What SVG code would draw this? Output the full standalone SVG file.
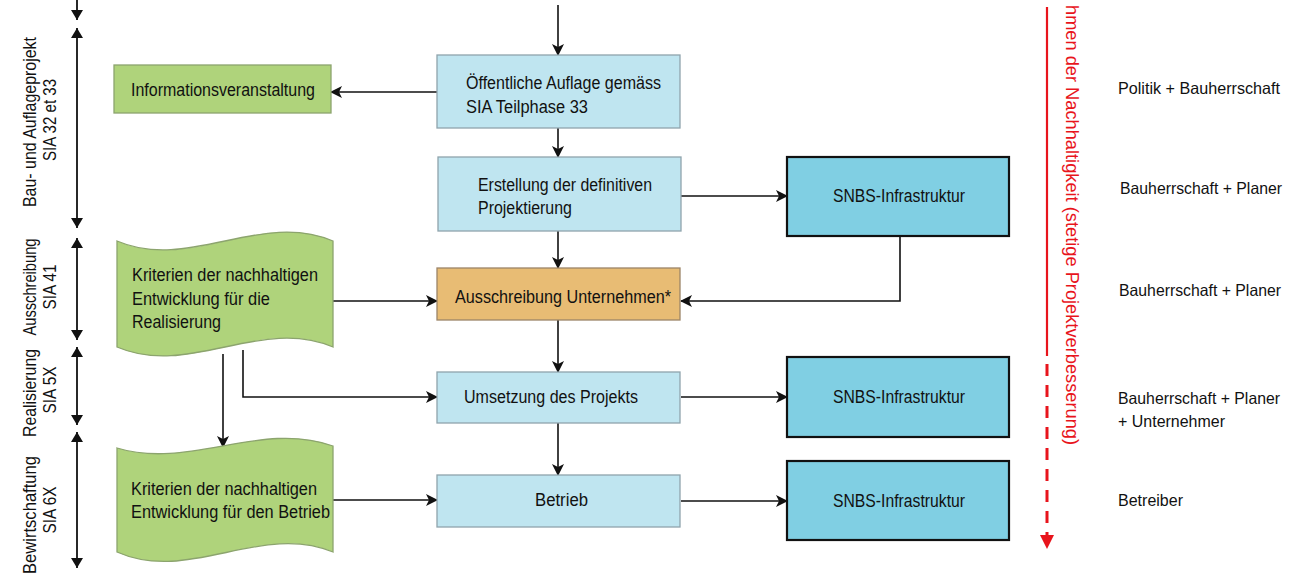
<svg xmlns="http://www.w3.org/2000/svg" width="1295" height="579" viewBox="0 0 1295 579">
<style>
text{font-family:"Liberation Sans",Arial,sans-serif;font-size:17.5px;fill:#111;}
.rl{font-size:16.5px;}
.lb{fill:#BFE5F0;stroke:#8FA4AC;stroke-width:1.3;}
.or{fill:#E8BC74;stroke:#9C8468;stroke-width:1.3;}
.gr{fill:#AFD37B;stroke:#8CA46E;stroke-width:1.3;}
.sn{fill:#80CFE3;stroke:#111;stroke-width:2.2;}
.c{fill:none;stroke:#111;stroke-width:1.6;}
.ax{fill:none;stroke:#111;stroke-width:1.8;}
.red{fill:#E8141C;font-size:18px;}
</style>
<defs>
<marker id="ah" viewBox="0 0 12 12" refX="11" refY="6" markerWidth="12" markerHeight="12" markerUnits="userSpaceOnUse" orient="auto">
<path d="M0,0 L12,6 L0,12 L3,6 Z" fill="#111"/>
</marker>
<marker id="ax" viewBox="0 0 10 12" refX="10" refY="6" markerWidth="10" markerHeight="12" markerUnits="userSpaceOnUse" orient="auto-start-reverse">
<path d="M0,0 L10,6 L0,12 Z" fill="#111"/>
</marker>
<marker id="rh" viewBox="0 0 14 14" refX="13" refY="7" markerWidth="14" markerHeight="14" markerUnits="userSpaceOnUse" orient="auto">
<path d="M0,0 L14,7 L0,14 Z" fill="#E8141C"/>
</marker>
</defs>

<g id="axis">
<line class="ax" x1="77" y1="0" x2="77" y2="20" marker-end="url(#ax)"/>
<line class="ax" x1="77" y1="28" x2="77" y2="228" marker-start="url(#ax)" marker-end="url(#ax)"/>
<line class="ax" x1="77" y1="238" x2="77" y2="340" marker-start="url(#ax)" marker-end="url(#ax)"/>
<line class="ax" x1="77" y1="347" x2="77" y2="425" marker-start="url(#ax)" marker-end="url(#ax)"/>
<line class="ax" x1="77" y1="432" x2="77" y2="568" marker-start="url(#ax)" marker-end="url(#ax)"/>
<text transform="translate(36,122) rotate(-90)" text-anchor="middle" textLength="170" lengthAdjust="spacingAndGlyphs">Bau- und Auflageprojekt</text>
<text transform="translate(56,120) rotate(-90)" text-anchor="middle" textLength="82" lengthAdjust="spacingAndGlyphs">SIA 32 et 33</text>
<text transform="translate(36,287) rotate(-90)" text-anchor="middle" textLength="97" lengthAdjust="spacingAndGlyphs">Ausschreibung</text>
<text transform="translate(56,287) rotate(-90)" text-anchor="middle" textLength="45" lengthAdjust="spacingAndGlyphs">SIA 41</text>
<text transform="translate(36,393) rotate(-90)" text-anchor="middle" textLength="88" lengthAdjust="spacingAndGlyphs">Realisierung</text>
<text transform="translate(56,390) rotate(-90)" text-anchor="middle" textLength="47" lengthAdjust="spacingAndGlyphs">SIA 5X</text>
<text transform="translate(36,515) rotate(-90)" text-anchor="middle" textLength="118" lengthAdjust="spacingAndGlyphs">Bewirtschaftung</text>
<text transform="translate(56,510) rotate(-90)" text-anchor="middle" textLength="47" lengthAdjust="spacingAndGlyphs">SIA 6X</text>
</g>

<g id="connectors">
<line class="c" x1="558" y1="5" x2="558" y2="55" marker-end="url(#ah)"/>
<line class="c" x1="558" y1="128" x2="558" y2="157" marker-end="url(#ah)"/>
<line class="c" x1="558" y1="231" x2="558" y2="268" marker-end="url(#ah)"/>
<line class="c" x1="558" y1="320" x2="558" y2="372" marker-end="url(#ah)"/>
<line class="c" x1="558" y1="423" x2="558" y2="475" marker-end="url(#ah)"/>
<line class="c" x1="437" y1="92" x2="331" y2="92" marker-end="url(#ah)"/>
<line class="c" x1="681" y1="196" x2="787" y2="196" marker-end="url(#ah)"/>
<polyline class="c" points="900,237 900,301 681,301" marker-end="url(#ah)"/>
<line class="c" x1="333" y1="301" x2="437" y2="301" marker-end="url(#ah)"/>
<polyline class="c" points="243,350 243,397 437,397" marker-end="url(#ah)"/>
<line class="c" x1="223" y1="354" x2="223" y2="447" marker-end="url(#ah)"/>
<line class="c" x1="681" y1="397" x2="787" y2="397" marker-end="url(#ah)"/>
<line class="c" x1="333" y1="500" x2="437" y2="500" marker-end="url(#ah)"/>
<line class="c" x1="681" y1="501" x2="787" y2="501" marker-end="url(#ah)"/>
</g>

<g id="info">
<rect class="gr" x="114" y="65" width="217" height="48"/>
<text x="223" y="96" text-anchor="middle" textLength="184" lengthAdjust="spacingAndGlyphs">Informationsveranstaltung</text>
</g>
<g id="auflage">
<rect class="lb" x="437" y="55" width="243" height="73"/>
<text x="466" y="89" textLength="195" lengthAdjust="spacingAndGlyphs">Öffentliche Auflage gemäss</text>
<text x="466" y="113" textLength="122" lengthAdjust="spacingAndGlyphs">SIA Teilphase 33</text>
</g>
<g id="erstellung">
<rect class="lb" x="438" y="157" width="243" height="74"/>
<text x="478" y="191" textLength="174" lengthAdjust="spacingAndGlyphs">Erstellung der definitiven</text>
<text x="478" y="214" textLength="94" lengthAdjust="spacingAndGlyphs">Projektierung</text>
</g>
<g id="snbs1">
<rect class="sn" x="787" y="157" width="222" height="79"/>
<text x="833" y="202" textLength="132" lengthAdjust="spacingAndGlyphs">SNBS-Infrastruktur</text>
</g>
<g id="kriterien1">
<path class="gr" d="M117,241 C189,272 261,210 333,241 L333,347 C261,316 189,378 117,347 Z"/>
<text x="132" y="281" textLength="186" lengthAdjust="spacingAndGlyphs">Kriterien der nachhaltigen</text>
<text x="132" y="305" textLength="138" lengthAdjust="spacingAndGlyphs">Entwicklung für die</text>
<text x="132" y="328" textLength="89" lengthAdjust="spacingAndGlyphs">Realisierung</text>
</g>
<g id="ausschreibung">
<rect class="or" x="437" y="268" width="243" height="52"/>
<text x="455" y="303" textLength="216" lengthAdjust="spacingAndGlyphs">Ausschreibung Unternehmen*</text>
</g>
<g id="umsetzung">
<rect class="lb" x="437" y="372" width="243" height="51"/>
<text x="464" y="403" textLength="174" lengthAdjust="spacingAndGlyphs">Umsetzung des Projekts</text>
</g>
<g id="snbs2">
<rect class="sn" x="787" y="357" width="222" height="80"/>
<text x="833" y="403" textLength="132" lengthAdjust="spacingAndGlyphs">SNBS-Infrastruktur</text>
</g>
<g id="kriterien2">
<path class="gr" d="M117,448 C189,470 261,420 333,446 L333,552 C261,522 189,584 117,552 Z"/>
<text x="131" y="495" textLength="186" lengthAdjust="spacingAndGlyphs">Kriterien der nachhaltigen</text>
<text x="131" y="518" textLength="199" lengthAdjust="spacingAndGlyphs">Entwicklung für den Betrieb</text>
</g>
<g id="betrieb">
<rect class="lb" x="437" y="475" width="243" height="52"/>
<text x="535" y="506" textLength="53" lengthAdjust="spacingAndGlyphs">Betrieb</text>
</g>
<g id="snbs3">
<rect class="sn" x="787" y="461" width="222" height="79"/>
<text x="833" y="507" textLength="132" lengthAdjust="spacingAndGlyphs">SNBS-Infrastruktur</text>
</g>

<g id="improvement">
<line x1="1047" y1="7" x2="1047" y2="356" stroke="#E8141C" stroke-width="2.2"/>
<line x1="1047" y1="364" x2="1047" y2="548" stroke="#E8141C" stroke-width="3" stroke-dasharray="12,9" marker-end="url(#rh)"/>
<text class="red" transform="translate(1066,5) rotate(90)" textLength="440" lengthAdjust="spacingAndGlyphs">hmen der Nachhaltigkeit (stetige Projektverbesserung)</text>
</g>

<g id="roles">
<text class="rl" x="1118" y="94" textLength="162" lengthAdjust="spacingAndGlyphs">Politik + Bauherrschaft</text>
<text class="rl" x="1120" y="194" textLength="162" lengthAdjust="spacingAndGlyphs">Bauherrschaft + Planer</text>
<text class="rl" x="1119" y="296" textLength="162" lengthAdjust="spacingAndGlyphs">Bauherrschaft + Planer</text>
<text class="rl" x="1118" y="404" textLength="162" lengthAdjust="spacingAndGlyphs">Bauherrschaft + Planer</text>
<text class="rl" x="1118" y="427" textLength="107" lengthAdjust="spacingAndGlyphs">+ Unternehmer</text>
<text class="rl" x="1118" y="506" textLength="65" lengthAdjust="spacingAndGlyphs">Betreiber</text>
</g>
</svg>
